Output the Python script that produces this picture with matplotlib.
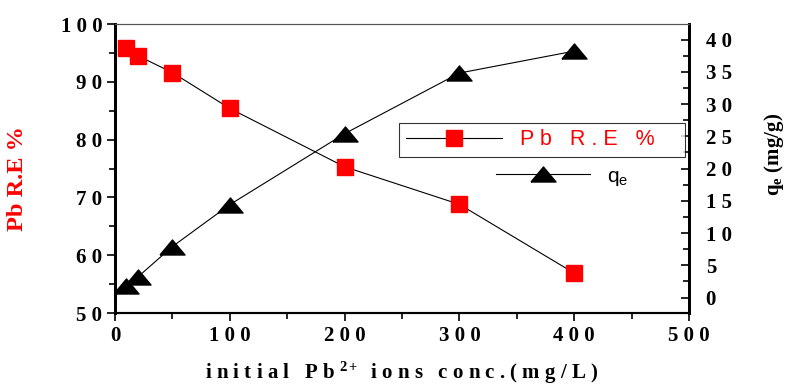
import matplotlib
matplotlib.use("Agg")
import matplotlib.pyplot as plt
from matplotlib.lines import Line2D

conc = [10, 20, 50, 100, 200, 300, 400]
removal = [95.9, 94.5, 91.6, 85.4, 75.3, 68.8, 56.9]
qe = [1.8, 3.2, 7.9, 14.4, 25.4, 34.8, 38.2]

x_ticks = [0, 100, 200, 300, 400, 500]
left_ticks = [50, 60, 70, 80, 90, 100]
right_ticks = [0, 5, 10, 15, 20, 25, 30, 35, 40]

plt.rcParams['mathtext.fontset'] = 'custom'
plt.rcParams['mathtext.rm'] = 'Liberation Serif:bold'
plt.rcParams['mathtext.it'] = 'Liberation Serif:bold'
plt.rcParams['mathtext.bf'] = 'Liberation Serif:bold'

def spaced(v):
    return " ".join(str(v))

serif = dict(family='Liberation Serif', weight='bold')
tri = [(-1, -0.6), (1, -0.6), (0, 0.6), (-1, -0.6)]

fig = plt.figure(figsize=(7.87, 3.9), dpi=100)
ax = fig.add_axes([0.1461, 0.1974, 0.7294, 0.741])
ax2 = ax.twinx()

l1, = ax.plot(conc, removal, color='black', lw=0.8, marker='s', ms=12,
              mfc='red', mec='red', zorder=3)
l2, = ax2.plot(conc, qe, color='black', lw=0.8, marker=tri, ms=18,
               mfc='black', mec='black', zorder=3)

ax.set_xlim(0, 500)
ax.set_ylim(50, 100)
ax2.set_ylim(-2.4, 42.4)

ax.set_xticks(x_ticks)
ax.set_xticklabels([spaced(v) for v in x_ticks], fontsize=15, **serif)
ax.set_xticks([50, 150, 250, 350, 450], minor=True)
ax.set_yticks(left_ticks)
ax.set_yticklabels([spaced(v) for v in left_ticks], fontsize=15, **serif)
ax.set_yticks([55, 65, 75, 85, 95], minor=True)
ax2.set_yticks(right_ticks)
ax2.set_yticklabels([spaced(v) for v in right_ticks], fontsize=15, **serif)
ax2.set_yticks([2.5, 7.5, 12.5, 17.5, 22.5, 27.5, 32.5, 37.5], minor=True)

ax.tick_params(axis='both', which='major', direction='out', length=6, width=1.2, pad=3)
ax.tick_params(axis='both', which='minor', direction='out', length=4, width=1.2)
ax2.tick_params(axis='y', which='major', direction='in', length=6, width=1.2, pad=12)
ax2.tick_params(axis='y', which='minor', direction='in', length=4, width=1.2)

for a in (ax, ax2):
    a.spines['top'].set_color('#555555')
    a.spines['top'].set_linewidth(0.8)
    a.spines['left'].set_linewidth(2)
    a.spines['right'].set_linewidth(2)
    a.spines['bottom'].set_linewidth(1.5)

ax.set_xlabel("i n i t i a l   P b $^{2+}$  i o n s   c o n c . ( m g / L )",
              fontsize=15, labelpad=10, **serif)
ax.set_ylabel("Pb R.E %", color='red', fontsize=17.5, **serif)
ax.yaxis.set_label_coords(-0.152, 0.464)
ax2.set_ylabel("q$_{\\mathregular{e}}$ (mg/g)", fontsize=15, **serif)
ax2.yaxis.set_label_coords(1.128, 0.55)

h1 = Line2D([], [], color='black', lw=0.8, marker='s', ms=12, mfc='red', mec='red')
h2 = Line2D([], [], color='black', lw=0.8, marker=tri, ms=18, mfc='black', mec='black')
leg1 = ax2.legend([h1], ["P b   R . E   %    "], loc='center left',
                  bbox_to_anchor=(0.495, 0.60), frameon=True, fancybox=False,
                  handlelength=4.5, borderpad=0.3, borderaxespad=0,
                  prop=dict(family='Liberation Sans', size=15.5))
leg1.get_frame().set_edgecolor('black')
leg1.get_frame().set_linewidth(0.8)
leg1.get_texts()[0].set_color('red')
ax2.add_artist(leg1)
ax2.legend([h2], ["q$_{\\mathregular{e}}$"], loc='center left',
           bbox_to_anchor=(0.65, 0.47), frameon=False,
           handlelength=4.5, borderaxespad=0,
           prop=dict(family='Liberation Sans', size=15))

plt.savefig('out.png', dpi=100)
